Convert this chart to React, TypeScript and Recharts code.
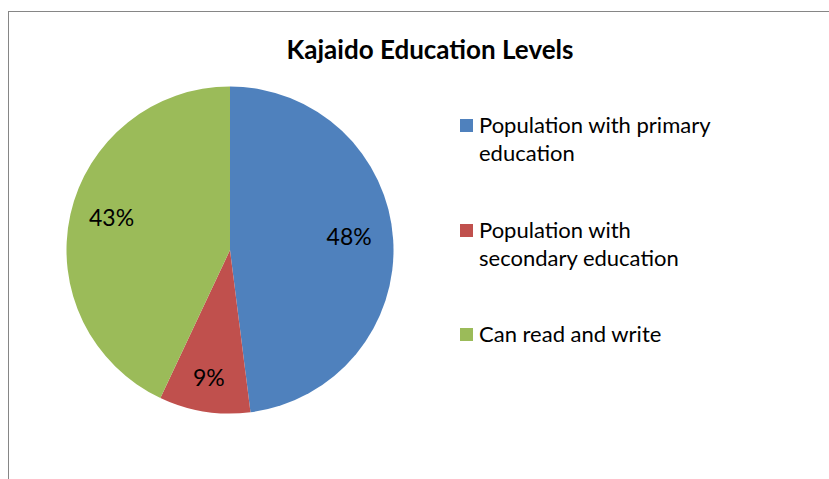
import React from 'react';
import { PieChart, Pie, Cell, Legend } from 'recharts';

const categories = [
  'Population with primary education',
  'Population with secondary education',
  'Can read and write',
];
const shares = [48, 9, 43];
const COLORS = ['#4F81BD', '#C0504D', '#9BBB59'];

const FONT = 'Lato, "Liberation Sans", sans-serif';
const RADIAN = Math.PI / 180;

const data = categories.map((name, i) => ({ name, value: shares[i] }));

const renderLabel = ({ cx, cy, midAngle, outerRadius, percent }: any) => {
  // smaller slices sit a bit further out, like Excel's best fit
  const r = outerRadius * (0.85 - 0.25 * percent);
  const x = cx + r * Math.cos(-midAngle * RADIAN);
  const y = cy + r * Math.sin(-midAngle * RADIAN) - 7;
  return (
    <text
      x={x}
      y={y}
      fill="#000"
      textAnchor="middle"
      dominantBaseline="central"
      fontSize={23}
      fontFamily={FONT}
    >
      {`${Math.round(percent * 100)}%`}
    </text>
  );
};

const LegendContent = ({ payload }: any) => {
  const items = [...(payload || [])].sort(
    (a: any, b: any) => categories.indexOf(a.value) - categories.indexOf(b.value)
  );
  return (
    <div style={{ fontFamily: FONT }}>
      {items.map((entry: any, i: number) => (
        <div key={`leg-${i}`} style={{ height: 104.5, display: 'flex', alignItems: 'flex-start' }}>
          <span
            style={{
              width: 13,
              height: 13,
              marginTop: 8,
              marginRight: 6,
              background: entry.color,
              flex: '0 0 auto',
            }}
          />
          <span style={{ width: 242, fontSize: 22, lineHeight: '28px', color: '#000' }}>
            {entry.value}
          </span>
        </div>
      ))}
    </div>
  );
};

export default function App() {
  return (
    <div
      style={{
        position: 'fixed',
        left: 0,
        top: 0,
        width: 829,
        height: 479,
        overflow: 'hidden',
        background: '#fff',
      }}
    >
      <div
        style={{
          position: 'absolute',
          left: 8,
          top: 11,
          width: 860,
          height: 520,
          borderTop: '1px solid #868686',
          borderLeft: '1px solid #868686',
        }}
      />
      <div
        style={{
          position: 'absolute',
          left: 130,
          top: 36,
          width: 600,
          textAlign: 'center',
          fontFamily: FONT,
          fontWeight: 700,
          fontSize: 26,
          lineHeight: 1,
          color: '#000',
        }}
      >
        Kajaido Education Levels
      </div>
      <div style={{ position: 'absolute', left: 9, top: 12 }}>
        <PieChart width={820} height={467} margin={{ top: 0, right: 0, bottom: 0, left: 0 }}>
          <Pie
            data={data}
            dataKey="value"
            nameKey="name"
            cx={221}
            cy={238}
            outerRadius={163.5}
            startAngle={90}
            endAngle={-270}
            stroke="none"
            labelLine={false}
            label={renderLabel}
            isAnimationActive={false}
          >
            {data.map((d, i) => (
              <Cell key={`cell-${i}`} fill={COLORS[i]} />
            ))}
          </Pie>
          <Legend
            layout="vertical"
            align="right"
            verticalAlign="top"
            content={<LegendContent />}
            wrapperStyle={{ left: 451, top: 99, width: 300 }}
          />
        </PieChart>
      </div>
    </div>
  );
}
